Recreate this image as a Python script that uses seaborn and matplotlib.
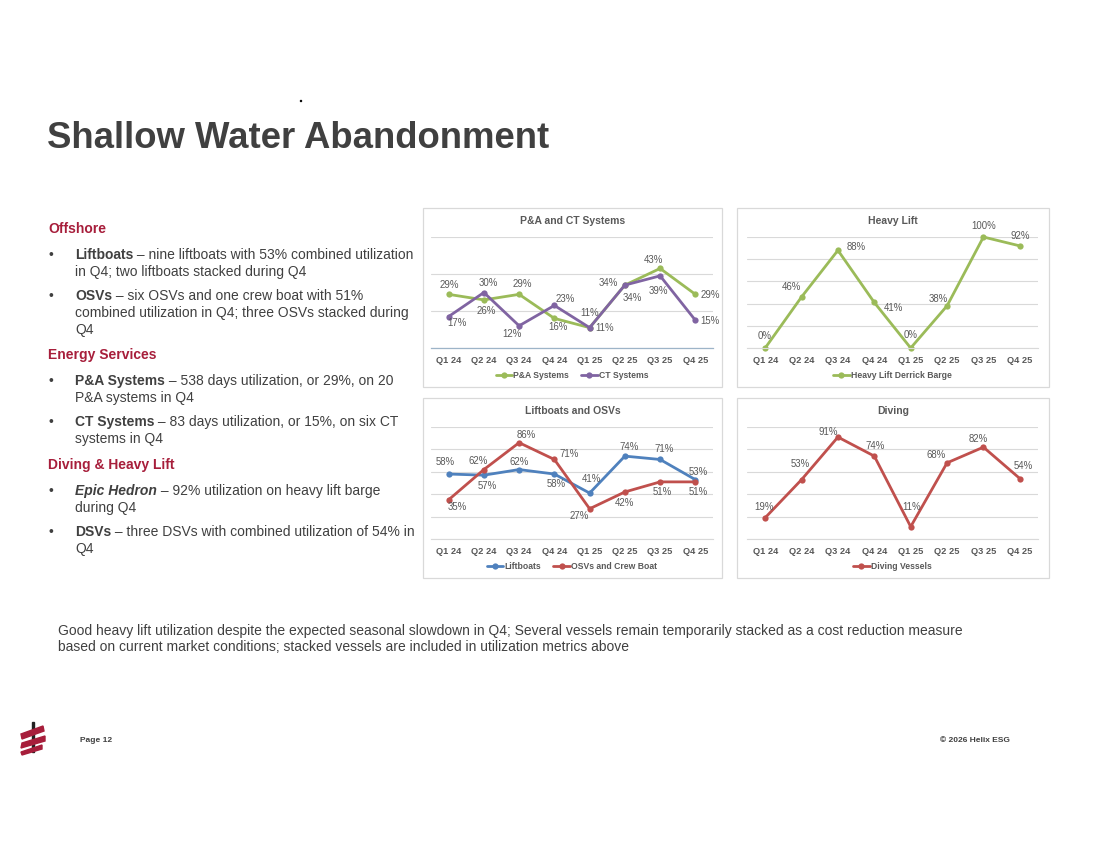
import matplotlib
matplotlib.use('Agg')
import matplotlib.pyplot as plt
import seaborn as sns
import pandas as pd
from matplotlib.patches import Rectangle, Polygon

# utilization data (%)
quarters = ['Q1 24', 'Q2 24', 'Q3 24', 'Q4 24', 'Q1 25', 'Q2 25', 'Q3 25', 'Q4 25']
pa_systems = [29, 26, 29, 16, 11, 34, 43, 29]
ct_systems = [17, 30, 12, 23, 11, 34, 39, 15]
heavy_lift = [0, 46, 88, 41, 0, 38, 100, 92]
liftboats = [58, 57, 62, 58, 41, 74, 71, 53]
osvs = [35, 62, 86, 71, 27, 42, 51, 51]
diving = [19, 53, 91, 74, 11, 68, 82, 54]

# data label offsets in pixels (dx, dy)
pa_offs = [(1, 9), (2, -11), (3, 10), (4, -9), (0, 15), (-17, 2), (-7, 8), (15, -1)]
ct_offs = [(8, -6), (4, 10), (-7, -8), (11, 6), (15, 0), (7, -13), (-2, -15), (15, -1)]
hl_offs = [(-1, 12), (-10, 10), (18, 3), (19, -6), (0, 13), (-9, 7), (0, 11), (0, 10)]
lb_offs = [(-3, 12), (3, -11), (0, 8), (2, -10), (2, 14), (4, 9), (4, 10), (3, 8)]
osv_offs = [(9, -7), (-6, 9), (7, 8), (15, 5), (-10, -7), (0, -11), (2, -10), (3, -10)]
dv_offs = [(-1, 11), (-1, 16), (-10, 5), (1, 10), (1, 20), (-11, 8), (-5, 8), (3, 13)]

GREEN, PURPLE, BLUE, RED = '#9BBB59', '#8064A2', '#4F81BD', '#C0504D'
GRAY = '#595959'
DARK = '#404040'
CRIMSON = '#A71E3B'

sns.set_theme(style='white')
plt.rcParams['font.family'] = ['Liberation Sans', 'DejaVu Sans']

W, H = 1100, 849
fig = plt.figure(figsize=(11, 8.49), dpi=100)


def fx(x):
    return x / W


def fy(y):
    return 1 - y / H


def panel(box, axbox, title, series, ymax, axis_color=None):
    x0, y0, x1, y1 = box
    fig.add_artist(Rectangle((fx(x0), fy(y1)), (x1 - x0) / W, (y1 - y0) / H,
                             transform=fig.transFigure, facecolor='white',
                             edgecolor='#D9D9D9', lw=0.9, zorder=-1))
    ax0, ay0, ax1, ay1 = axbox
    ax = fig.add_axes([fx(ax0), fy(ay1), (ax1 - ax0) / W, (ay1 - ay0) / H])
    ax.set_zorder(2)
    ax.set_facecolor('none')
    for name, vals, color, offs in series:
        df = pd.DataFrame({'q': quarters, 'v': vals})
        sns.lineplot(data=df, x='q', y='v', ax=ax, color=color, marker='o',
                     markersize=4.5, markeredgewidth=0, lw=2, label=name, sort=False)
        for i, (v, (dx, dy)) in enumerate(zip(vals, offs)):
            ax.annotate(f'{v}%', (i, v), xytext=(dx, dy), textcoords='offset pixels',
                        ha='center', va='center', fontsize=6.9, color=GRAY)
    for ln in ax.lines:
        ln.set_clip_on(False)
    ax.set_xlim(-0.5, 7.5)
    ax.set_ylim(0, ymax)
    ax.set_yticks(range(0, ymax + 1, 20))
    ax.yaxis.grid(True, color='#D9D9D9', lw=0.8)
    ax.set_axisbelow(True)
    ax.tick_params(axis='y', left=False, labelleft=False)
    ax.tick_params(axis='x', length=0, pad=6, labelsize=6.7, labelcolor=GRAY)
    for lbl in ax.get_xticklabels():
        lbl.set_fontweight('bold')
    ax.set_xlabel('')
    ax.set_ylabel('')
    for s in ['top', 'left', 'right']:
        ax.spines[s].set_visible(False)
    ax.spines['bottom'].set_color(axis_color or '#D9D9D9')
    ax.spines['bottom'].set_linewidth(0.9 if axis_color else 0.8)
    leg = ax.legend(loc='center', bbox_to_anchor=(0.5, -0.245), ncol=2, frameon=False,
                    prop={'size': 6.2, 'weight': 'bold'}, handlelength=1.9,
                    columnspacing=1.4, handletextpad=0.15)
    for t in leg.get_texts():
        t.set_color(GRAY)
    fig.text(fx((x0 + x1) / 2), fy(y0 + 13), title, ha='center', va='center',
             fontsize=7.5, fontweight='bold', color=GRAY)
    return ax


panel((423, 208, 722, 387), (431, 237, 713, 348), 'P&A and CT Systems',
      [('P&A Systems', pa_systems, GREEN, pa_offs),
       ('CT Systems', ct_systems, PURPLE, ct_offs)], 60, axis_color='#9DB4C8')
panel((737, 208, 1049, 387), (747, 237, 1038, 348), 'Heavy Lift',
      [('Heavy Lift Derrick Barge', heavy_lift, GREEN, hl_offs)], 100)
panel((423, 398, 722, 578), (431, 427, 713, 539), 'Liftboats and OSVs',
      [('Liftboats', liftboats, BLUE, lb_offs),
       ('OSVs and Crew Boat', osvs, RED, osv_offs)], 100)
panel((737, 398, 1049, 578), (747, 427, 1038, 539), 'Diving',
      [('Diving Vessels', diving, RED, dv_offs)], 100)

# slide title
fig.text(fx(47), fy(138), 'Shallow Water Abandonment', ha='left', va='center',
         fontsize=26.3, fontweight='bold', color=DARK)
fig.add_artist(Rectangle((fx(300), fy(101)), 1 / W, 1 / H, transform=fig.transFigure,
                         color='black'))

# left text block
fig.canvas.draw()
renderer = fig.canvas.get_renderer()
FS = 10


def runs(x, y, parts):
    for txt, weight, style in parts:
        t = fig.text(fx(x), fy(y), txt, ha='left', va='center', fontsize=FS,
                     fontweight=weight, fontstyle=style, color=DARK)
        x = t.get_window_extent(renderer).x1


headings = [('Offshore', 229), ('Energy Services', 355), ('Diving & Heavy Lift', 465)]
for txt, y in headings:
    fig.text(fx(48), fy(y), txt, ha='left', va='center', fontsize=10,
             fontweight='bold', color=CRIMSON)

bullets = [
    ('Liftboats', 'normal', ' – nine liftboats with 53% combined utilization', 255,
     ['in Q4; two liftboats stacked during Q4']),
    ('OSVs', 'normal', ' – six OSVs and one crew boat with 51%', 296,
     ['combined utilization in Q4; three OSVs stacked during', 'Q4']),
    ('P&A Systems', 'normal', ' – 538 days utilization, or 29%, on 20', 381,
     ['P&A systems in Q4']),
    ('CT Systems', 'normal', ' – 83 days utilization, or 15%, on six CT', 422,
     ['systems in Q4']),
    ('Epic Hedron', 'italic', ' – 92% utilization on heavy lift barge', 491,
     ['during Q4']),
    ('DSVs', 'normal', ' – three DSVs with combined utilization of 54% in', 532,
     ['Q4']),
]
for head, style, rest, y, more in bullets:
    fig.text(fx(48), fy(y), '•', ha='left', va='center', fontsize=FS, color=DARK)
    runs(75, y, [(head, 'bold', style), (rest, 'normal', 'normal')])
    for k, line in enumerate(more):
        fig.text(fx(75), fy(y + 17 * (k + 1)), line, ha='left', va='center',
                 fontsize=FS, color=DARK)

# bottom note
fig.text(fx(58), fy(631), 'Good heavy lift utilization despite the expected seasonal slowdown '
         'in Q4; Several vessels remain temporarily stacked as a cost reduction measure',
         ha='left', va='center', fontsize=FS, color=DARK)
fig.text(fx(58), fy(647), 'based on current market conditions; stacked vessels are included '
         'in utilization metrics above', ha='left', va='center', fontsize=FS, color=DARK)

# footer
fig.text(fx(80), fy(740), 'Page 12', ha='left', va='center', fontsize=6,
         fontweight='bold', color=DARK)
fig.text(fx(1010), fy(740), '© 2026 Helix ESG', ha='right', va='center', fontsize=6,
         fontweight='bold', color=DARK)

# simple logo
fig.add_artist(Rectangle((fx(32), fy(752)), 1.5 / W, 30 / H, transform=fig.transFigure,
                         color='#222222'))
for pts in [[(21, 734), (43, 726), (44, 731), (22, 739)],
            [(22, 743), (45, 736), (45, 741), (21, 748)],
            [(21, 752), (42, 745), (42, 749), (22, 755)]]:
    fig.add_artist(Polygon([(fx(a), fy(b)) for a, b in pts], closed=True,
                           transform=fig.transFigure, color='#A71E3B'))

fig.savefig('out.png', dpi=100)
